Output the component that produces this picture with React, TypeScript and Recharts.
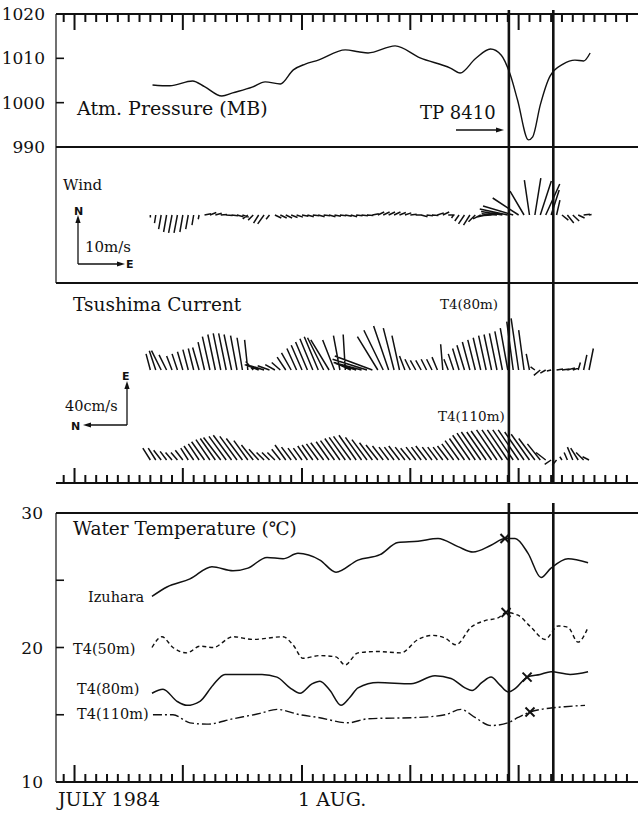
import React from 'react';
import { LineChart, ComposedChart, Line, Scatter, XAxis, YAxis, ReferenceLine } from 'recharts';

// time axis: day number counted from 1 July 1984 (32 = 1 Aug)
const dayTicks = [
  10, 11, 12, 13, 14, 15, 16, 17, 18, 19, 20, 21, 22, 23, 24, 25, 26, 27, 28, 29, 30, 31,
  32, 33, 34, 35, 36, 37, 38, 39, 40, 41, 42, 43, 44, 45, 46, 47, 48, 49, 50, 51, 52, 53,
  54, 55, 56, 57, 58, 59, 60, 61, 62,
];
const longTickDays = [11, 21, 32, 42, 52];
const typhoonDays = [51.1, 55.2];

// atmospheric pressure (mb)
const pressureDays = [
  18.2, 19.8, 21.9, 23.0, 24.6, 25.6, 27.4, 28.6, 30.0, 31.2, 32.3, 33.5, 36.0, 37.2, 38.1, 40.6,
  42.9, 45.7, 46.6, 48.0, 49.4, 50.4, 51.2, 51.9, 52.9, 53.3, 54.0, 54.9, 56.1, 57.2, 58.0, 58.6,
];
const pressureMb = [
  1004.0, 1003.8, 1004.9, 1003.6, 1001.5, 1002.2, 1003.5, 1004.7, 1004.2, 1007.4, 1008.7, 1009.6,
  1011.9, 1011.5, 1011.2, 1012.8, 1010.1, 1007.8, 1006.7, 1009.9, 1012.1, 1010.7, 1006.5, 1000.6,
  991.6, 992.3, 999.5, 1006.0, 1008.7, 1009.6, 1009.4, 1011.2,
];

// stick plots share one time base (every 12 h)
const stickDays = [
  18, 18.5, 19, 19.5, 20, 20.5, 21, 21.5, 22, 22.5,
  23, 23.5, 24, 24.5, 25, 25.5, 26, 26.5, 27, 27.5,
  28, 28.5, 29, 29.5, 30, 30.5, 31, 31.5, 32, 32.5,
  33, 33.5, 34, 34.5, 35, 35.5, 36, 36.5, 37, 37.5,
  38, 38.5, 39, 39.5, 40, 40.5, 41, 41.5, 42, 42.5,
  43, 43.5, 44, 44.5, 45, 45.5, 46, 46.5, 47, 47.5,
  48, 48.5, 49, 49.5, 50, 50.5, 51, 51.5, 52, 52.5,
  53, 53.5, 54, 54.5, 55, 55.5, 56, 56.5, 57, 57.5,
  58, 58.5,
];

// wind (m/s)
const windEast = [
  0, -0.3, -0.6, -0.7, -0.8, -0.8, -0.7, -0.6, -0.4, -0.2,
  1.5, 1.5, 1.5, 1.5, 1.5, 1.5, 1.5, 1.5, -1.2, -1.2,
  -1.2, -1.5, -0.8, 1.5, 1.5, 1.5, 1.5, 1.5, 1.5, 1.5,
  1.5, 1.5, 1.5, 1.5, 1.5, 1.5, 1.5, 1.5, 1.5, 1.5,
  1.5, 1.5, 1.5, 1.5, 1.5, 1.5, 1.5, 1.5, 1.5, 1.5,
  1.5, 1.5, 1.5, 1.5, 1.5, 1.5, -0.5, -1.0, -1.4, -1.5,
  -1.6, -1.8, -2.2, -2.8, -3.6, -5.0, -6.6, -7.1, -6.1, -3.3,
  -1.2, 1.4, 2.6, 3.3, 1.9, 0.8, 1.5, 1.5, 1.5, 1.5,
  1.5, 0.6,
];
const windNorth = [
  -0.6, -1.9, -3.3, -4.0, -4.2, -4.2, -4.0, -3.3, -2.4, -1.0,
  0.3, 0.6, 0.4, 0.1, -0.1, -0.2, -0.4, -0.5, -0.9, -1.2,
  -1.9, -2.1, -1.0, -0.7, -0.7, -0.7, -0.6, -0.5, -0.3, -0.4,
  -0.2, -0.4, -0.2, -0.4, -0.3, -0.2, -0.3, -0.4, -0.2, -0.2,
  -0.1, 0.3, 0.7, 0.7, 0.7, 0.7, 0.6, 0.5, 0.2, 0,
  -0.4, -0.2, -0.1, 0.5, 0.7, 0, -0.7, -1.4, -2.1, -2.4,
  -1.6, -0.9, -0.5, -0.2, 0.3, 0.8, 1.4, 2.1, 4.0, 5.6,
  8.2, 8.7, 8.0, 7.3, 5.9, 3.5, -1.2, -1.9, -1.4, -0.7,
  0.2, 0.1,
];

// Tsushima Current at T4 (cm/s)
const cur80East = [
  15, 18, 18, 14, 13, 15, 17, 19, 20, 21,
  26, 31, 33, 34, 34, 33, 32, 30, 28, 8,
  5, 4, 4, 5, 7, 12, 16, 20, 23, 26,
  29, 31, 30, 28, 28, 32, 33, 7, 6, 7,
  10, 13, 31, 37, 41, 39, 32, 13, 10, 9,
  9, 10, 10, 12, 24, 10, 15, 20, 23, 26,
  28, 30, 32, 33, 34, 36, 39, 45, 48, 37,
  15, 3, -5, -3, -1, 1, 1, 2, 2, 7,
  14, 20,
];
const cur80North = [
  4, 6, 9, 7, 5, 5, 5, 5, 5, 6,
  6, 7, 7, 7, 7, 7, 6, 5, 3, 7,
  13, 13, 11, 9, 8, 8, 9, 9, 10, 11,
  12, 13, 15, 17, 11, 6, 2, 15, 19, 26,
  32, 35, 19, 18, 14, 10, 7, 5, 5, 5,
  5, 5, 5, 5, 2, 4, 5, 6, 7, 7,
  7, 7, 7, 7, 7, 7, 7, 6, 7, 5,
  3, 4, 6, 5, 4, -6, -7, -7, -6, -2,
  -3, -4,
];
const cur110East = [
  11, 11, 9, 8, 7, 7, 9, 11, 13, 15,
  17, 19, 20, 21, 22, 23, 22, 20, 18, 14,
  10, 7, 7, 7, 10, 14, 12, 11, 11, 13,
  14, 15, 16, 17, 18, 20, 21, 22, 23, 21,
  19, 16, 14, 13, 12, 12, 13, 12, 11, 12,
  12, 13, 12, 12, 12, 13, 15, 18, 20, 23,
  25, 26, 26, 27, 28, 28, 28, 28, 28, 26,
  24, 20, 15, 7, -4, -5, 3, 7, 12, 11,
  7, 3,
];
const cur110North = [
  7, 7, 7, 6, 6, 6, 7, 7, 9, 10,
  12, 13, 14, 16, 16, 17, 16, 15, 13, 11,
  9, 7, 7, 7, 8, 10, 9, 8, 8, 9,
  10, 11, 12, 12, 13, 14, 15, 16, 16, 15,
  14, 12, 11, 10, 9, 9, 10, 9, 9, 9,
  9, 10, 9, 9, 9, 10, 11, 13, 14, 16,
  17, 18, 18, 19, 19, 19, 19, 19, 19, 18,
  17, 15, 12, 9, 6, 4, 2, 3, 5, 7,
  7, 6,
];

// water temperature (deg C)
const izuharaDays = [
  18.15, 19.53, 21.66, 23.69, 25.63, 27.01, 28.77, 30.25, 31.63, 33.66, 35.14, 37.17, 39.2,
  40.86, 42.71, 44.56, 46.4, 47.79, 49.45, 50.74, 51.67, 52.87, 54.07, 54.99, 56.56, 58.41,
];
const izuharaTemp = [
  23.8, 24.5, 25.1, 26.0, 25.7, 25.9, 26.7, 26.6, 27.0, 26.5, 25.6, 26.5, 26.9,
  27.8, 27.9, 28.1, 27.5, 27.1, 27.6, 28.1, 28.1, 27.0, 25.2, 25.9, 26.6, 26.3,
];
const t50Days = [
  18.15, 19.07, 20.09, 21.38, 22.58, 23.78, 25.63, 27.48, 30.25, 31.17, 32.09, 33.66, 35.14, 35.97,
  37.17, 39.02, 41.14, 42.71, 44.1, 45.2, 46.22, 47.6, 48.9, 50.1, 50.84, 51.94, 53.15, 54.44,
  55.64, 56.56, 57.48, 58.41,
];
const t50Temp = [
  20.0, 20.8, 20.0, 19.6, 20.1, 20.0, 20.8, 20.6, 20.8, 20.2, 19.2, 19.4, 19.3, 18.7,
  19.6, 19.7, 19.6, 20.6, 20.9, 20.7, 20.2, 21.5, 22.0, 22.2, 22.6, 22.4, 21.5, 20.6,
  21.6, 21.5, 20.4, 21.5,
];
const t80Days = [
  18.15, 19.17, 20.46, 21.38, 22.58, 23.78, 24.89, 26.28, 28.31, 29.69, 30.89, 31.82, 32.92,
  33.66, 34.59, 35.6, 36.43, 37.17, 39.02, 42.06, 44.28, 45.76, 47.05, 47.7, 48.62, 49.45,
  50.28, 51.02, 51.76, 52.78, 53.98, 54.99, 56.75, 58.41,
];
const t80Temp = [
  16.6, 16.9, 16.0, 15.7, 16.0, 17.2, 18.0, 18.0, 18.0, 17.8, 17.0, 16.6, 17.3,
  17.5, 16.8, 15.7, 16.3, 17.0, 17.4, 17.3, 17.9, 17.7, 17.0, 16.8, 17.4, 17.8,
  17.2, 16.7, 17.0, 17.8, 18.0, 18.2, 18.0, 18.2,
];
const t110Days = [
  18.24, 20.09, 21.66, 23.23, 25.63, 28.12, 29.69, 31.82, 33.48, 36.25, 38.09, 42.71,
  45.2, 46.68, 47.97, 49.45, 51.02, 51.94, 53.05, 54.07, 54.99, 56.28, 58.13,
];
const t110Temp = [
  15.0, 15.0, 14.4, 14.3, 14.7, 15.1, 15.4, 15.0, 14.8, 14.4, 14.7, 14.8,
  15.0, 15.4, 14.8, 14.2, 14.4, 14.8, 15.2, 15.4, 15.5, 15.6, 15.7,
];
const markerDays = [50.74, 50.84, 52.78, 53.05];
const markerTemps = [28.1, 22.6, 17.8, 15.2];

// ---- layout ----
const W = 638;
const H = 814;
const AXIS_W = 56;
const X_DOMAIN: [number, number] = [9.29, 63.02];
const PX_PER_DAY = (W - AXIS_W) / (X_DOMAIN[1] - X_DOMAIN[0]);
const INK = '#111';
const SERIF = '"DejaVu Serif", "Liberation Serif", serif';
const SANS = '"DejaVu Sans", sans-serif';

const P_DOMAIN: [number, number] = [990, 1020];
const P_UNIT = 30 / 133; // mb per px
const P_TOP = 1020 + 4 * P_UNIT; // typhoon lines start 4 px above the frame
const WIND_H = 136;
const WIND_DOMAIN: [number, number] = [-16, 16];
const WIND_PX = WIND_H / (WIND_DOMAIN[1] - WIND_DOMAIN[0]);
const CUR_H = 200;
const CUR_PX = 43 / 40; // 40 cm/s scale arrow is 43 px long
const CUR80_DOMAIN: [number, number] = [-113 / CUR_PX, 87 / CUR_PX];
const CUR110_DOMAIN: [number, number] = [-23 / CUR_PX, 177 / CUR_PX];
const T_DOMAIN: [number, number] = [10, 30];
const T_UNIT = 20 / 269; // deg C per px
const T_TOP = 30 + 30 * T_UNIT; // lines bridge the 30 px gap above the panel

const zip = (xs: number[], ys: number[]) => xs.map((t, i) => ({ t, v: ys[i] }));

// each stick: base on the time axis, tip offset by the vector; a null breaks the path
const sticks = (dx: number[], dy: number[], pxPerUnit: number) => {
  const k = pxPerUnit / PX_PER_DAY;
  return stickDays.flatMap((t, i) => [
    { t, v: 0 },
    { t: t + dx[i] * k, v: dy[i] },
    { t: t + dx[i] * k, v: null },
  ]);
};

const windSticks = sticks(windEast, windNorth, WIND_PX);
// current plot: E points up, N points left
const cur80Sticks = sticks(cur80North.map((n) => -n), cur80East, CUR_PX);
const cur110Sticks = sticks(cur110North.map((n) => -n), cur110East, CUR_PX);

// inward day ticks along a frame edge, as short vertical segments in data space
const dayTickData = (y0: number, step: number, longLen: number, shortLen: number) =>
  dayTicks.flatMap((d) => {
    const len = longTickDays.includes(d) ? longLen : shortLen;
    return [
      { t: d, v: y0 },
      { t: d, v: y0 + len * step },
      { t: d, v: null },
    ];
  });

const valueTick = (labels: number[], marks: number[], gap: number) => (p: any) => {
  const v = p.payload.value;
  return (
    <g>
      {labels.includes(v) && (
        <text x={p.x} y={p.y} dy={6} textAnchor="end" fontFamily={SERIF} fontSize={17} fill={INK}>
          {v}
        </text>
      )}
      {marks.includes(v) && (
        <line x1={p.x + gap} x2={p.x + gap + 8} y1={p.y} y2={p.y} stroke={INK} strokeWidth={1.6} />
      )}
    </g>
  );
};

const CrossMark = (p: any) => (
  <g stroke={INK} strokeWidth={2}>
    <line x1={p.cx - 4.5} y1={p.cy - 4.5} x2={p.cx + 4.5} y2={p.cy + 4.5} />
    <line x1={p.cx - 4.5} y1={p.cy + 4.5} x2={p.cx + 4.5} y2={p.cy - 4.5} />
  </g>
);

const timeAxisProps = {
  type: 'number' as const,
  dataKey: 't',
  domain: X_DOMAIN,
  allowDataOverflow: true,
};

const segLine = (data: any[], width: number, yAxisId?: string) => (
  <Line
    data={data}
    dataKey="v"
    {...(yAxisId ? { yAxisId } : {})}
    type="linear"
    stroke={INK}
    strokeWidth={width}
    dot={false}
    activeDot={false}
    connectNulls={false}
    isAnimationActive={false}
  />
);

const Arrow = ({ x1, y1, x2, y2 }: { x1: number; y1: number; x2: number; y2: number }) => {
  const a = Math.atan2(y2 - y1, x2 - x1);
  const hx = x2 - 8 * Math.cos(a);
  const hy = y2 - 8 * Math.sin(a);
  const px = 2.6 * Math.sin(a);
  const py = -2.6 * Math.cos(a);
  return (
    <g>
      <line x1={x1} y1={y1} x2={hx} y2={hy} stroke={INK} strokeWidth={1.3} />
      <polygon points={`${x2},${y2} ${hx + px},${hy + py} ${hx - px},${hy - py}`} fill={INK} />
    </g>
  );
};

const App = () => (
  <div style={{ position: 'relative', width: W, height: H, background: '#fff' }}>
    <style>{'body{margin:0;background:#fff}'}</style>

    {/* Atm. pressure */}
    <div style={{ position: 'absolute', left: 0, top: 0 }}>
      <LineChart width={W} height={157} margin={{ top: 13, right: 0, bottom: 10, left: 0 }}>
        <XAxis
          {...timeAxisProps}
          orientation="top"
          height={1}
          tick={false}
          tickLine={false}
          axisLine={{ stroke: INK, strokeWidth: 2 }}
        />
        <YAxis
          type="number"
          dataKey="v"
          domain={P_DOMAIN}
          allowDataOverflow
          ticks={[990, 1000, 1010, 1020]}
          interval={0}
          width={AXIS_W}
          tickSize={0}
          tickMargin={11}
          tickLine={false}
          tick={valueTick([990, 1000, 1010, 1020], [1000, 1010], 11)}
          axisLine={{ stroke: INK, strokeWidth: 1.2 }}
        />
        <ReferenceLine y={990} stroke={INK} strokeWidth={2} />
        {typhoonDays.map((d) => (
          <ReferenceLine
            key={d}
            segment={[{ x: d, y: P_DOMAIN[0] }, { x: d, y: P_TOP }]}
            ifOverflow="visible"
            stroke={INK}
            strokeWidth={2.6}
          />
        ))}
        {segLine(dayTickData(P_DOMAIN[1], -P_UNIT, 16, 8), 2)}
        <Line
          data={zip(pressureDays, pressureMb)}
          dataKey="v"
          type="monotone"
          stroke={INK}
          strokeWidth={1.4}
          dot={false}
          isAnimationActive={false}
        />
      </LineChart>
    </div>

    {/* Wind */}
    <div style={{ position: 'absolute', left: 0, top: 147 }}>
      <LineChart width={W} height={WIND_H + 2} margin={{ top: 0, right: 0, bottom: 2, left: 0 }}>
        <XAxis {...timeAxisProps} hide />
        <YAxis
          type="number"
          domain={WIND_DOMAIN}
          allowDataOverflow
          width={AXIS_W}
          tick={false}
          tickLine={false}
          axisLine={{ stroke: INK, strokeWidth: 1.2 }}
        />
        <ReferenceLine y={WIND_DOMAIN[0]} stroke={INK} strokeWidth={2} />
        {typhoonDays.map((d) => (
          <ReferenceLine key={d} x={d} stroke={INK} strokeWidth={2.6} />
        ))}
        {segLine(windSticks, 1.5)}
      </LineChart>
    </div>

    {/* Tsushima Current */}
    <div style={{ position: 'absolute', left: 0, top: 283 }}>
      <LineChart width={W} height={CUR_H + 1} margin={{ top: 0, right: 0, bottom: 0, left: 0 }}>
        <XAxis
          {...timeAxisProps}
          height={1}
          tick={false}
          tickLine={false}
          axisLine={{ stroke: INK, strokeWidth: 2 }}
        />
        <YAxis
          yAxisId="c80"
          type="number"
          domain={CUR80_DOMAIN}
          allowDataOverflow
          width={AXIS_W}
          tick={false}
          tickLine={false}
          axisLine={{ stroke: INK, strokeWidth: 1.2 }}
        />
        <YAxis yAxisId="c110" type="number" domain={CUR110_DOMAIN} allowDataOverflow hide />
        {typhoonDays.map((d) => (
          <ReferenceLine key={d} x={d} yAxisId="c80" stroke={INK} strokeWidth={2.6} />
        ))}
        {segLine(dayTickData(CUR80_DOMAIN[0], 1 / CUR_PX, 15, 8), 2, 'c80')}
        {segLine(cur80Sticks, 1.5, 'c80')}
        {segLine(cur110Sticks, 1.5, 'c110')}
      </LineChart>
    </div>

    {/* Water temperature */}
    <div style={{ position: 'absolute', left: 0, top: 503 }}>
      <ComposedChart width={W} height={291} margin={{ top: 10, right: 0, bottom: 11, left: 0 }}>
        <XAxis
          {...timeAxisProps}
          height={1}
          tick={false}
          tickLine={false}
          axisLine={{ stroke: INK, strokeWidth: 2 }}
        />
        <YAxis
          type="number"
          dataKey="v"
          domain={T_DOMAIN}
          allowDataOverflow
          ticks={[10, 15, 20, 25, 30]}
          interval={0}
          width={AXIS_W}
          tickSize={0}
          tickMargin={13}
          tickLine={false}
          tick={valueTick([10, 20, 30], [15, 20, 25], 13)}
          axisLine={{ stroke: INK, strokeWidth: 1.2 }}
        />
        <ReferenceLine y={30} stroke={INK} strokeWidth={2} />
        {typhoonDays.map((d) => (
          <ReferenceLine
            key={d}
            segment={[{ x: d, y: T_DOMAIN[0] }, { x: d, y: T_TOP }]}
            ifOverflow="visible"
            stroke={INK}
            strokeWidth={2.6}
          />
        ))}
        {segLine(dayTickData(T_DOMAIN[0], T_UNIT, 17, 8), 2)}
        <Line data={zip(izuharaDays, izuharaTemp)} dataKey="v" type="monotone" stroke={INK} strokeWidth={1.5} dot={false} isAnimationActive={false} />
        <Line data={zip(t50Days, t50Temp)} dataKey="v" type="monotone" stroke={INK} strokeWidth={1.4} strokeDasharray="4 3" dot={false} isAnimationActive={false} />
        <Line data={zip(t80Days, t80Temp)} dataKey="v" type="monotone" stroke={INK} strokeWidth={1.5} dot={false} isAnimationActive={false} />
        <Line data={zip(t110Days, t110Temp)} dataKey="v" type="monotone" stroke={INK} strokeWidth={1.4} strokeDasharray="9 3 2 3" dot={false} isAnimationActive={false} />
        <Scatter data={zip(markerDays, markerTemps)} dataKey="v" shape={CrossMark} isAnimationActive={false} />
      </ComposedChart>
    </div>

    {/* labels and scale arrows */}
    <svg
      width={W}
      height={H}
      style={{ position: 'absolute', left: 0, top: 0, pointerEvents: 'none' }}
      fontFamily={SERIF}
      fill={INK}
    >
      <text x={77} y={115} fontSize={19}>Atm. Pressure (MB)</text>
      <text x={420} y={119} fontSize={18}>TP 8410</text>
      <Arrow x1={456} y1={130} x2={504} y2={130} />

      <text x={63} y={190} fontSize={15}>Wind</text>
      <Arrow x1={78} y1={264} x2={78} y2={215} />
      <Arrow x1={78} y1={264} x2={125} y2={264} />
      <text x={74} y={215} fontSize={11} fontFamily={SANS} fontWeight="bold">N</text>
      <text x={126} y={268} fontSize={11} fontFamily={SANS} fontWeight="bold">E</text>
      <text x={85} y={252} fontSize={15}>10m/s</text>

      <text x={73} y={311} fontSize={18.5}>Tsushima Current</text>
      <text x={440} y={309} fontSize={13.5}>T4(80m)</text>
      <text x={438} y={421} fontSize={13.5}>T4(110m)</text>
      <Arrow x1={127} y1={425} x2={127} y2={381} />
      <Arrow x1={127} y1={425} x2={83} y2={425} />
      <text x={122} y={380} fontSize={11} fontFamily={SANS} fontWeight="bold">E</text>
      <text x={71} y={430} fontSize={11} fontFamily={SANS} fontWeight="bold">N</text>
      <text x={65} y={411} fontSize={14.5}>40cm/s</text>

      <text x={73} y={535} fontSize={18.5}>Water Temperature (℃)</text>
      <text x={88} y={602} fontSize={14.5}>Izuhara</text>
      <text x={73} y={654} fontSize={14.5}>T4(50m)</text>
      <text x={77} y={694} fontSize={14.5}>T4(80m)</text>
      <text x={77} y={719} fontSize={14.5}>T4(110m)</text>

      <text x={58} y={806} fontSize={19}>JULY 1984</text>
      <text x={298} y={806} fontSize={19}>1 AUG.</text>
    </svg>
  </div>
);

export default App;
